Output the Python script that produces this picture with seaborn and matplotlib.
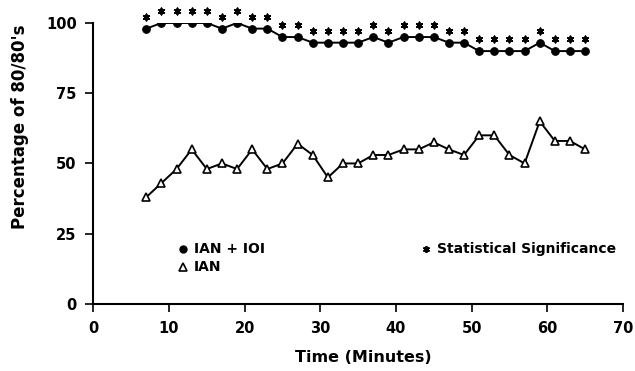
import matplotlib
matplotlib.use("Agg")
import matplotlib.pyplot as plt
import matplotlib.transforms as mtransforms
import seaborn as sns
import pandas as pd

times = [7, 9, 11, 13, 15, 17, 19, 21, 23, 25, 27, 29, 31, 33, 35,
         37, 39, 41, 43, 45, 47, 49, 51, 53, 55, 57, 59, 61, 63, 65]
ian_ioi = [98, 100, 100, 100, 100, 98, 100, 98, 98, 95, 95, 93, 93, 93, 93,
           95, 93, 95, 95, 95, 93, 93, 90, 90, 90, 90, 93, 90, 90, 90]
ian = [38, 43, 48, 55, 48, 50, 48, 55, 48, 50, 57, 53, 45, 50, 50,
       53, 53, 55, 55, 57.5, 55, 53, 60, 60, 53, 50, 65, 58, 58, 55]
significant = [True] * 30
x_ticks = [0, 10, 20, 30, 40, 50, 60, 70]
y_ticks = [0, 25, 50, 75, 100]
legend_labels = ["IAN + IOI", "IAN", "Statistical Significance"]

sns.set_theme(style="ticks")
plt.rcParams['font.family'] = ['DejaVu Sans']

df = pd.DataFrame({"Time": times, "IAN + IOI": ian_ioi, "IAN": ian})

fig = plt.figure(figsize=(6.35, 3.71), dpi=100)
ax = fig.add_axes([0.147, 0.181, 0.834, 0.757])

sns.lineplot(data=df, x="Time", y="IAN + IOI", ax=ax, color="black", lw=1.4,
             marker="o", markersize=5.5, markeredgecolor="black",
             markerfacecolor="black")
sns.lineplot(data=df, x="Time", y="IAN", ax=ax, color="black", lw=1.4,
             marker="^", markersize=6, markeredgecolor="black",
             markerfacecolor="white", markeredgewidth=1.2)

sig_t = [t for t, s in zip(times, significant) if s]
sig_v = [v for v, s in zip(ian_ioi, significant) if s]
off = mtransforms.offset_copy(ax.transData, fig=fig, x=0, y=12, units='dots')
ax.scatter(sig_t, sig_v, marker=(6, 2, 0), s=20, color="black",
           linewidths=1.3, transform=off, clip_on=False)

ax.set_xlim(0, 70)
ax.set_ylim(0, 100)
ax.set_xticks(x_ticks)
ax.set_yticks(y_ticks)
ax.tick_params(axis='both', labelsize=10.5, length=6, width=1.2,
               color='black', labelcolor='black', pad=6)
for lab in ax.get_xticklabels() + ax.get_yticklabels():
    lab.set_fontweight('bold')
sns.despine(ax=ax)
for sp in ['left', 'bottom']:
    ax.spines[sp].set_linewidth(1.5)
    ax.spines[sp].set_color('black')

ax.set_xlabel("Time (Minutes)", fontsize=11.5, fontweight='bold',
              color='black')
ax.xaxis.set_label_coords(0.509, -0.165)
ax.set_ylabel("Percentage of 80/80's", fontsize=12, fontweight='bold',
              color='black')
ax.yaxis.set_label_coords(-0.122, 0.63)

# legend-like key drawn in axes coordinates
tkw = dict(transform=ax.transAxes, fontsize=10, fontweight='bold',
           va='center', ha='left', color='black')
ax.plot([0.17], [0.195], transform=ax.transAxes, marker='o', color='black',
        markersize=5, ls='none', clip_on=False)
ax.text(0.19, 0.195, legend_labels[0], **tkw)
ax.plot([0.17], [0.13], transform=ax.transAxes, marker='^',
        markerfacecolor='white', markeredgecolor='black', markersize=5.5,
        markeredgewidth=1.2, ls='none', clip_on=False)
ax.text(0.19, 0.13, legend_labels[1], **tkw)
ax.plot([0.628], [0.195], transform=ax.transAxes, marker=(6, 2, 0),
        color='black', markersize=5, markeredgewidth=1.3, ls='none',
        clip_on=False)
ax.text(0.648, 0.195, legend_labels[2], **tkw)

fig.savefig("out.png", dpi=100)
